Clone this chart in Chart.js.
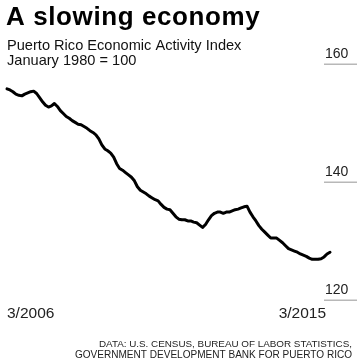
<!DOCTYPE html>
<html>
<head>
<meta charset="utf-8">
<script src="https://cdn.jsdelivr.net/npm/chart.js@4"></script>
<style>
html,body{margin:0;padding:0;background:#fff;}
#wrap{position:relative;width:360px;height:362px;}
</style>
</head>
<body>
<div id="wrap"><canvas id="c" width="360" height="362"></canvas></div>
<script>
// Puerto Rico Economic Activity Index, monthly 3/2006 .. 3/2015
const indexValues = [
  155.8,155.6,155.3,154.9,154.7,154.6,154.9,155.1,155.3,155.4,
  155.0,154.3,153.6,153.0,152.7,152.9,153.3,152.8,152.1,151.6,
  151.1,150.8,150.4,150.1,149.8,149.7,149.4,149.1,148.7,148.4,
  148.0,147.3,146.3,145.6,145.3,144.9,144.2,143.1,142.3,142.0,
  141.6,141.2,140.8,140.2,139.2,138.6,138.3,138.0,137.6,137.3,
  137.0,136.8,136.2,135.7,135.4,135.3,134.7,134.1,133.7,133.6,
  133.6,133.4,133.4,133.2,133.1,132.7,132.3,132.8,133.6,134.3,
  134.7,134.9,134.9,134.7,134.9,134.9,135.1,135.3,135.4,135.6,
  135.8,135.9,134.9,134.1,133.4,132.6,132.0,131.5,131.0,130.5,
  130.5,130.5,130.1,129.7,129.2,128.7,128.5,128.3,128.1,127.8,
  127.6,127.4,127.1,126.9,126.9,126.9,127.0,127.3,127.8,128.1
];
const startYear = 2006, startMonth = 3;
const months = [];
for (let i = 0; i < indexValues.length; i++) {
  const m = (startMonth - 1 + i) % 12 + 1;
  const y = startYear + Math.floor((startMonth - 1 + i) / 12);
  months.push(m + '/' + y);
}
const xTickLabels = ['3/2006', '3/2015'];
const yTickValues = [120, 140, 160];
const titleText = 'A slowing economy';
const subtitleLines = ['Puerto Rico Economic Activity Index', 'January 1980 = 100'];
const sourceLines = ['DATA: U.S. CENSUS, BUREAU OF LABOR STATISTICS,', 'GOVERNMENT DEVELOPMENT BANK FOR PUERTO RICO'];

const FONT = '"Liberation Sans", Arial, sans-serif';

const decor = {
  id: 'decor',
  afterDraw(chart) {
    const ctx = chart.ctx;
    const ys = chart.scales.y, xs = chart.scales.x;
    ctx.save();
    // title
    ctx.fillStyle = '#000';
    ctx.textBaseline = 'alphabetic';
    ctx.textAlign = 'left';
    ctx.font = 'bold 26px ' + FONT;
    if ('letterSpacing' in ctx) ctx.letterSpacing = '0.6px';
    ctx.fillText(titleText, 6, 25);
    if ('letterSpacing' in ctx) ctx.letterSpacing = '0px';
    // subtitle
    ctx.fillStyle = '#111';
    ctx.font = '14.6px ' + FONT;
    ctx.fillText(subtitleLines[0], 7, 49.5);
    ctx.fillText(subtitleLines[1], 7, 64.5);
    // y ticks + short gridlines
    yTickValues.forEach(v => {
      const y = Math.round(ys.getPixelForValue(v));
      ctx.strokeStyle = '#b8b8b8';
      ctx.lineWidth = 1.5;
      ctx.beginPath();
      ctx.moveTo(324, y + 0.25);
      ctx.lineTo(357, y + 0.25);
      ctx.stroke();
      ctx.fillStyle = '#222';
      ctx.font = '14px ' + FONT;
      ctx.textAlign = 'left';
      ctx.fillText(String(v), 325, y - 6);
    });
    // x tick labels
    ctx.font = '15.5px ' + FONT;
    ctx.fillStyle = '#222';
    ctx.textAlign = 'left';
    ctx.fillText(xTickLabels[0], xs.getPixelForValue(months.indexOf(xTickLabels[0])), 318);
    ctx.textAlign = 'right';
    ctx.fillText(xTickLabels[1], xs.getPixelForValue(months.indexOf(xTickLabels[1])) - 1, 318);
    // source
    ctx.fillStyle = '#222';
    ctx.textAlign = 'right';
    ctx.font = '9.85px ' + FONT;
    ctx.fillText(sourceLines[0], 352, 347);
    ctx.font = '10.05px ' + FONT;
    ctx.fillText(sourceLines[1], 352, 357.5);
    ctx.restore();
  }
};

new Chart(document.getElementById('c'), {
  type: 'line',
  data: {
    labels: months,
    datasets: [{
      data: indexValues,
      borderColor: '#000',
      borderWidth: 3,
      pointRadius: 0,
      tension: 0,
      borderCapStyle: 'round',
      borderJoinStyle: 'round',
      clip: false
    }]
  },
  options: {
    responsive: false,
    animation: false,
    devicePixelRatio: 1,
    layout: { padding: { left: 7, right: 30, top: 64, bottom: 62 } },
    plugins: { legend: { display: false }, tooltip: { enabled: false }, title: { display: false } },
    scales: {
      x: { type: 'category', display: false, offset: false },
      y: { type: 'linear', display: false, min: 120, max: 160 }
    }
  },
  plugins: [decor]
});
</script>
</body>
</html>
